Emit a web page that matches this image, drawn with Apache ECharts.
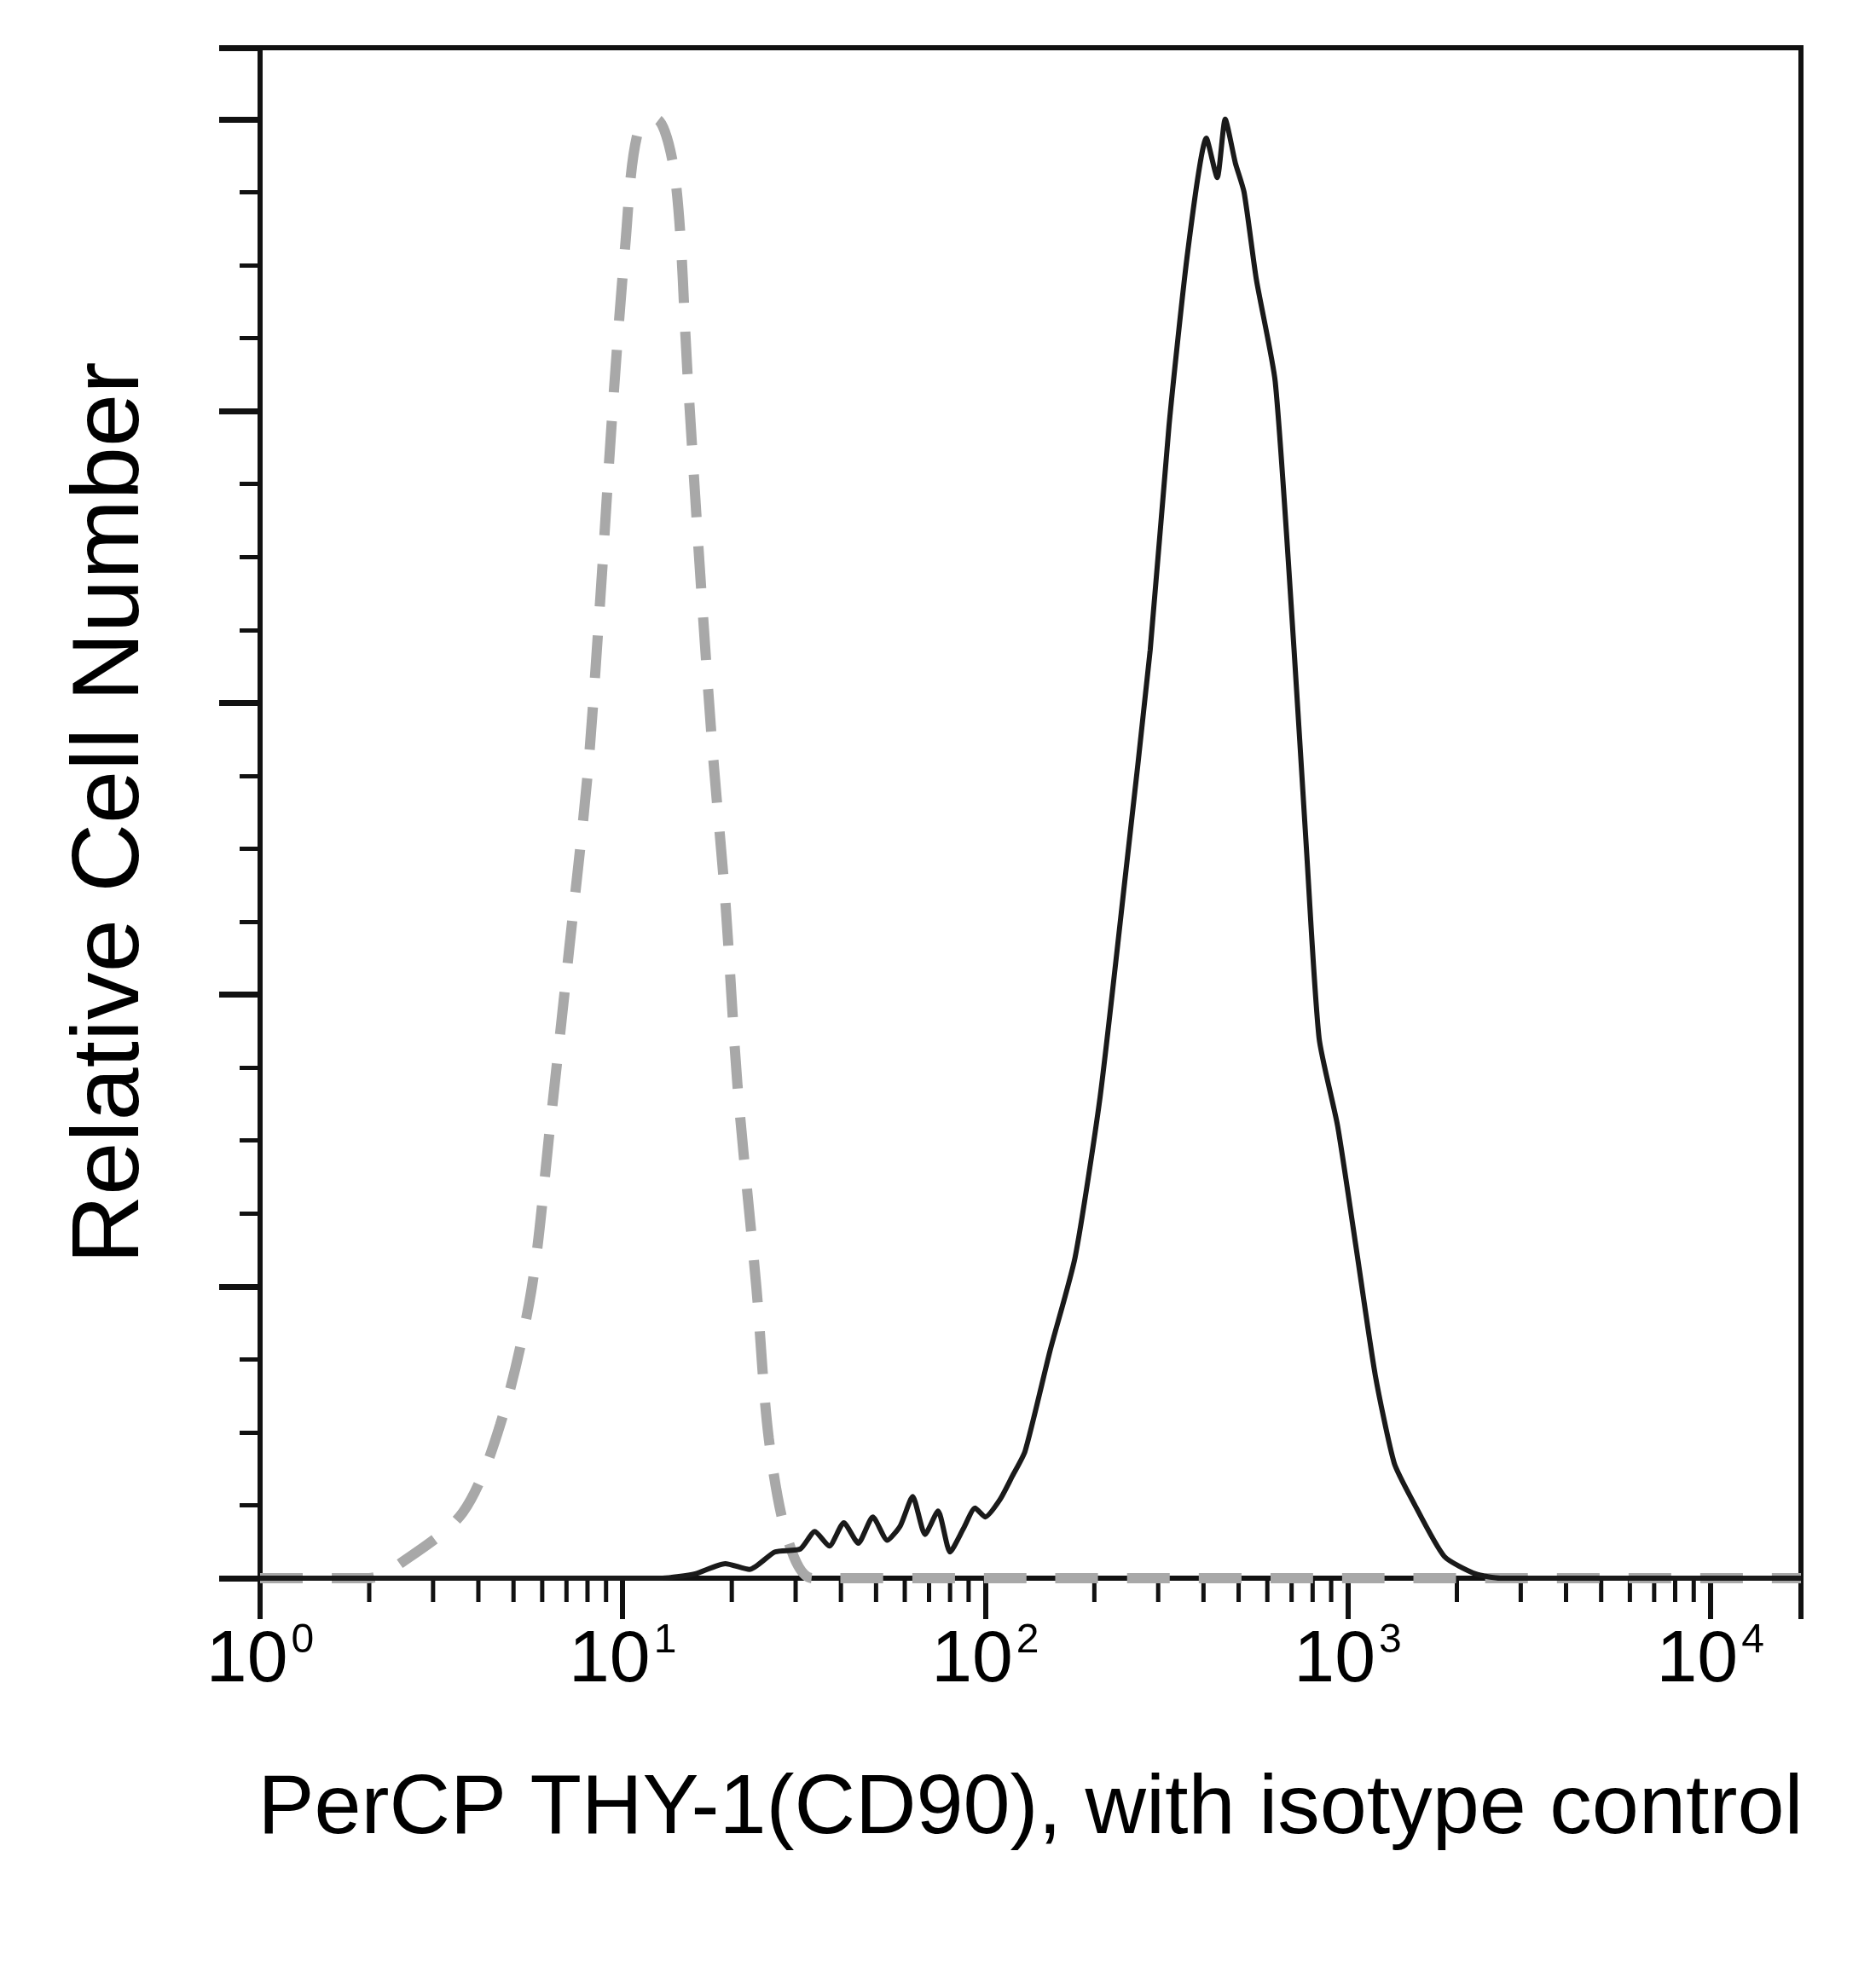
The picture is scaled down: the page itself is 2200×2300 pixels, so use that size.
<!DOCTYPE html><html><head><meta charset="utf-8">
<script src="https://cdn.jsdelivr.net/npm/echarts@6/dist/echarts.min.js"></script>
<style>html,body{margin:0;background:#fff}#c{width:2200px;height:2300px}</style></head><body><div id="c"></div>
<script>
// x values are log10 of fluorescence intensity
const isoX = [0,0.3,0.386,0.559,0.662,0.748,0.8,0.852,0.903,0.938,0.972,1.007,1.041,1.093,1.145,1.179,1.214,1.248,1.283,1.317,1.369,1.403,1.455,1.524,2.0,3.0,4.25];
const isoY = [0,0,1.0,4.5,10.5,19.7,31,43,55,67,80,91.3,99,100,96,82.5,68.8,56.8,46.5,33.7,19.9,9.6,2.7,0,0,0,0];
const cdX = [0,1.11,1.2,1.283,1.35,1.42,1.49,1.53,1.57,1.61,1.65,1.69,1.73,1.766,1.80,1.834,1.87,1.903,1.94,1.972,2.0,2.041,2.075,2.11,2.179,2.248,2.317,2.386,2.455,2.507,2.559,2.61,2.64,2.662,2.69,2.714,2.748,2.8,2.852,2.886,2.921,2.972,3.024,3.076,3.128,3.179,3.266,3.352,3.421,4.25];
const cdY = [0,0,0.3,1.0,0.6,1.8,2.0,3.2,2.2,3.8,2.4,4.2,2.6,3.6,5.6,3.0,4.6,1.8,3.4,4.8,4.2,5.4,7.0,8.7,15.6,22,33,48,63.6,79,91,98.7,96,100,97,95,89,82,63.6,50,37,31,22.5,13.9,7.9,5.3,1.5,0.3,0,0];
const xTickLabels = ['10{s|0}','10{s|1}','10{s|2}','10{s|3}','10{s|4}'];
const pair = (xs, ys) => xs.map((x,i)=>[x, ys[i]]);
const minorX = [];
for (let d=0; d<5; d++) for (let k=2; k<=9; k++) { const v=d+Math.log10(k); if (v<4.25) minorX.push(v); }
const chart = echarts.init(document.getElementById('c'));
chart.setOption({
  animation:false,
  grid:{left:305,right:88,top:56,bottom:449,show:true,borderColor:'#111',borderWidth:6,backgroundColor:'transparent'},
  xAxis:{type:'value',min:0,max:4.25,interval:1,
    name:'PerCP THY-1(CD90), with isotype control',nameLocation:'middle',nameGap:222,
    nameTextStyle:{fontFamily:'Liberation Sans',fontSize:99,color:'#000'},
    axisLine:{lineStyle:{color:'#111',width:6}},
    axisTick:{length:48,lineStyle:{color:'#111',width:6}},
    splitLine:{show:false},
    axisLabel:{margin:50,fontFamily:'Liberation Sans',fontSize:86,color:'#000',
      formatter:v=>Number.isInteger(v)&&v<=4?xTickLabels[v]:'',
      rich:{s:{fontSize:48,verticalAlign:'top',padding:[0,0,46,4],fontFamily:'Liberation Sans',color:'#000'}}}},
  yAxis:{type:'value',min:0,max:104.9,interval:20,
    name:'Relative Cell Number',nameLocation:'middle',nameGap:118,
    nameTextStyle:{fontFamily:'Liberation Sans',fontSize:112,color:'#000'},
    axisLine:{lineStyle:{color:'#111',width:6}},
    axisTick:{length:48,lineStyle:{color:'#111',width:7}},
    minorTick:{show:true,splitNumber:4,length:24,lineStyle:{color:'#111',width:5}},
    splitLine:{show:false},minorSplitLine:{show:false},axisLabel:{show:false}},
  series:[
    {type:'custom',silent:true,clip:false,data:minorX.map(v=>[v,0]),
     renderItem:(p,api)=>{const pt=api.coord([api.value(0),0]);
       return {type:'line',shape:{x1:pt[0],y1:pt[1],x2:pt[0],y2:pt[1]+28},style:{stroke:'#111',lineWidth:5}};}},
    {type:'line',data:pair(isoX,isoY),showSymbol:false,smooth:0.3,
     lineStyle:{color:'#a8a8a8',width:12,type:[50,34]}},
    {type:'line',data:pair(cdX,cdY),showSymbol:false,smooth:0.2,
     lineStyle:{color:'#1a1a1a',width:6}}
  ]
});
</script></body></html>
